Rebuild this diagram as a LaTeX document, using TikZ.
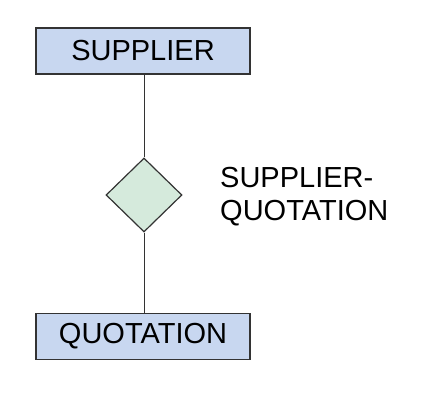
\documentclass[tikz,border=0pt]{standalone}
\usepackage{fontspec}
\setmainfont{Liberation Sans}
\usetikzlibrary{shapes.geometric}
\definecolor{entfill}{HTML}{C8D7F0}
\definecolor{relfill}{HTML}{D5EADC}
\definecolor{edge}{HTML}{333333}
\begin{document}
\begin{tikzpicture}[x=1pt,y=-1pt,
  entity/.style={draw=edge, line width=1.2pt, fill=entfill, minimum width=214pt, minimum height=46pt, inner sep=0pt, font=\fontsize{29}{33}\selectfont},
  rel/.style={draw=edge, line width=1.2pt, fill=relfill, diamond, minimum width=76pt, minimum height=74pt, inner sep=0pt},
  conn/.style={draw=edge, line width=1pt},
  lbl/.style={align=left, inner sep=0pt, font=\fontsize{29}{33}\selectfont}]
\useasboundingbox (0,0) rectangle (428,398);
\node[entity] (sup) at (143,51) {SUPPLIER};
\node[rel] (r) at (144,195) {};
\node[entity] (quo) at (143,336.5) {QUOTATION};
\node[lbl, anchor=west] (t) at (220,197) {SUPPLIER-\\QUOTATION};
\draw[conn] (sup.south -| r.north) -- (r.north);
\draw[conn] (r.south) -- (quo.north -| r.south);
\end{tikzpicture}
\end{document}
